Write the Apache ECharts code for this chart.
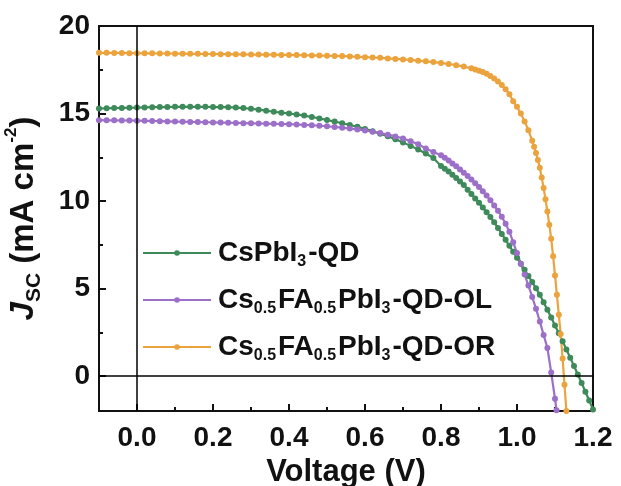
<!DOCTYPE html>
<html>
<head>
<meta charset="utf-8">
<script src="https://cdn.jsdelivr.net/npm/echarts@6/dist/echarts.min.js"></script>
<style>
  html, body { margin: 0; padding: 0; background: #ffffff; }
  #chart { width: 621px; height: 486px; }
</style>
</head>
<body>
<div id="chart"></div>
<script>
  // tick labels
  var xTicks = [0, 0.2, 0.4, 0.6, 0.8, 1.0, 1.2];
  var xMinorTicks = [0.1, 0.3, 0.5, 0.7, 0.9, 1.1];
  var yTicks = [0, 5, 10, 15, 20];
  var yMinorTicks = [2.5, 7.5, 12.5, 17.5];

  var seriesNames = ['CsPbI3-QD', 'Cs0.5FA0.5PbI3-QD-OL', 'Cs0.5FA0.5PbI3-QD-OR'];

  // CsPbI3-QD
  var voltQD = [-0.10,-0.08,-0.06,-0.04,-0.02,0.00,0.02,0.04,0.06,0.08,0.10,0.12,0.14,0.16,0.18,0.20,0.22,0.24,0.26,0.28,
    0.30,0.32,0.34,0.36,0.38,0.40,0.42,0.44,0.46,0.48,0.50,0.52,0.54,0.56,0.58,0.60,0.62,0.64,0.66,0.68,0.70,0.72,0.74,0.76,0.78,
    0.80,0.81,0.82,0.83,0.84,0.85,0.86,0.87,0.88,0.89,0.90,0.91,0.92,0.93,0.94,0.95,0.96,0.97,0.98,0.99,
    1.00,1.01,1.02,1.03,1.04,1.05,1.06,1.07,1.08,1.09,1.10,1.11,1.12,1.13,1.14,1.15,1.16,1.17,1.18,1.19,1.20];
  var jscQD = [15.28,15.30,15.31,15.32,15.33,15.34,15.35,15.36,15.37,15.37,15.38,15.38,15.38,15.38,15.38,15.37,15.37,15.36,15.34,15.31,
    15.27,15.22,15.16,15.10,15.05,15.00,14.95,14.88,14.80,14.72,14.63,14.54,14.44,14.34,14.24,14.12,13.99,13.85,13.70,13.53,13.35,13.15,12.94,12.71,12.46,
    12.00,11.85,11.68,11.50,11.32,11.12,10.92,10.65,10.40,10.15,9.90,9.63,9.36,9.08,8.78,8.46,8.12,7.78,7.44,7.10,
    6.76,6.42,6.07,5.72,5.37,5.01,4.65,4.22,3.78,3.34,2.89,2.44,1.98,1.52,1.05,0.57,0.09,-0.40,-0.90,-1.40,-1.91];

  // Cs0.5FA0.5PbI3-QD-OL
  var voltOL = [-0.10,-0.08,-0.06,-0.04,-0.02,0.00,0.02,0.04,0.06,0.08,0.10,0.12,0.14,0.16,0.18,0.20,0.22,0.24,0.26,0.28,
    0.30,0.32,0.34,0.36,0.38,0.40,0.42,0.44,0.46,0.48,0.50,0.52,0.54,0.56,0.58,0.60,0.62,0.64,0.66,0.68,0.70,0.72,0.74,0.76,0.78,
    0.80,0.81,0.82,0.83,0.84,0.85,0.86,0.87,0.88,0.89,0.90,0.91,0.92,0.93,0.94,0.95,0.96,0.97,0.98,0.99,
    1.00,1.01,1.02,1.03,1.04,1.05,1.06,1.07,1.08,1.09,1.10,1.104];
  var jscOL = [14.62,14.61,14.61,14.60,14.60,14.59,14.58,14.57,14.56,14.55,14.54,14.53,14.52,14.51,14.50,14.49,14.48,14.47,14.46,14.45,
    14.44,14.43,14.42,14.41,14.40,14.39,14.37,14.35,14.33,14.30,14.27,14.23,14.19,14.14,14.09,14.03,13.96,13.88,13.79,13.69,13.57,13.42,13.25,13.00,12.80,
    12.62,12.47,12.31,12.14,11.98,11.80,11.62,11.43,11.23,11.02,10.80,10.56,10.31,10.04,9.75,9.44,9.10,8.70,8.25,7.64,
    7.03,6.42,5.80,5.17,4.52,3.85,3.12,2.35,1.60,0.20,-1.30,-1.95];

  // Cs0.5FA0.5PbI3-QD-OR
  var voltOR = [-0.10,-0.08,-0.06,-0.04,-0.02,0.00,0.02,0.04,0.06,0.08,0.10,0.12,0.14,0.16,0.18,0.20,0.22,0.24,0.26,0.28,
    0.30,0.32,0.34,0.36,0.38,0.40,0.42,0.44,0.46,0.48,0.50,0.52,0.54,0.56,0.58,0.60,0.62,0.64,0.66,0.68,0.70,0.72,0.74,0.76,0.78,
    0.80,0.82,0.84,0.86,0.88,0.89,0.90,0.91,0.92,0.93,0.94,0.95,0.96,0.97,0.98,0.99,1.00,1.01,1.02,1.03,1.04,
    1.045,1.05,1.055,1.06,1.065,1.07,1.075,1.08,1.085,1.09,1.095,1.10,1.105,1.11,1.115,1.12,1.125,1.13];
  var jscOR = [18.47,18.47,18.46,18.46,18.45,18.45,18.44,18.44,18.43,18.43,18.42,18.42,18.41,18.41,18.40,18.40,18.39,18.39,18.38,18.38,
    18.37,18.37,18.36,18.36,18.35,18.35,18.34,18.33,18.32,18.31,18.30,18.29,18.28,18.26,18.24,18.22,18.20,18.18,18.15,18.12,18.09,18.06,18.02,17.98,17.94,
    17.89,17.83,17.76,17.68,17.58,17.52,17.45,17.37,17.27,17.15,17.00,16.83,16.63,16.38,16.10,15.70,15.38,15.00,14.55,14.05,13.45,
    13.10,12.75,12.35,11.90,11.35,10.75,10.10,9.40,8.65,7.85,6.85,5.75,4.65,3.50,2.40,1.00,-0.50,-2.00];

  var colors = ['#3e8a5b', '#9c6fc8', '#eba33d'];
  var fontFamily = '"Liberation Sans", Arial, sans-serif';

  function zip(xs, ys) {
    var out = [];
    for (var i = 0; i < xs.length; i++) out.push([xs[i], ys[i]]);
    return out;
  }

  var legendText = {
    'CsPbI3-QD': '{n|CsPbI}{s|3}{n|-QD}',
    'Cs0.5FA0.5PbI3-QD-OL': '{n|Cs}{s|0.5}{n|FA}{s|0.5}{n|PbI}{s|3}{n|-QD-OL}',
    'Cs0.5FA0.5PbI3-QD-OR': '{n|Cs}{s|0.5}{n|FA}{s|0.5}{n|PbI}{s|3}{n|-QD-OR}'
  };

  function lineSeries(name, data, color, withZeroLines) {
    var s = {
      name: name,
      type: 'line',
      data: data,
      xAxisIndex: 0,
      yAxisIndex: 0,
      showSymbol: true,
      showAllSymbol: true,
      symbol: 'circle',
      symbolSize: 6,
      clip: true,
      itemStyle: { color: color },
      lineStyle: { color: color, width: 2.2 },
      emphasis: { disabled: true },
      animation: false
    };
    if (withZeroLines) {
      s.markLine = {
        silent: true,
        symbol: 'none',
        label: { show: false },
        lineStyle: { color: '#000', width: 1.5, type: 'solid' },
        data: [{ xAxis: 0 }, { yAxis: 0 }]
      };
    }
    return s;
  }

  var chart = echarts.init(document.getElementById('chart'));
  chart.setOption({
    animation: false,
    backgroundColor: '#ffffff',
    grid: {
      left: 99, right: 28, top: 26, bottom: 75,
      show: true, borderColor: '#111', borderWidth: 2,
      containLabel: false,
      outerBoundsMode: 'none'
    },
    legend: {
      orient: 'vertical',
      left: 137,
      top: 234,
      itemGap: 16,
      itemWidth: 68,
      itemHeight: 7,
      data: seriesNames,
      formatter: function (name) { return legendText[name]; },
      textStyle: {
        color: '#111',
        fontFamily: fontFamily,
        rich: {
          n: { fontSize: 28, fontWeight: 'bold', color: '#111', fontFamily: fontFamily, lineHeight: 34, verticalAlign: 'middle', padding: [0, 0, 0, 2] },
          s: { fontSize: 16, fontWeight: 'bold', color: '#111', fontFamily: fontFamily, lineHeight: 16, verticalAlign: 'bottom' }
        }
      }
    },
    xAxis: [{
      type: 'value',
      min: -0.1, max: 1.2,
      position: 'bottom',
      name: 'Voltage (V)',
      nameLocation: 'middle',
      nameGap: 46,
      nameTextStyle: { fontSize: 31, fontWeight: 'bold', color: '#111', fontFamily: fontFamily },
      axisLine: { show: true, onZero: false, lineStyle: { color: '#111', width: 2 } },
      axisTick: { show: true, inside: true, length: 7, customValues: xTicks, lineStyle: { color: '#111', width: 2 } },
      axisLabel: {
        show: true, margin: 13, customValues: xTicks,
        fontSize: 28, fontWeight: 'bold', color: '#111', fontFamily: fontFamily,
        formatter: function (v) { return v.toFixed(1); }
      },
      splitLine: { show: false }
    }, {
      type: 'value',
      min: -0.1, max: 1.2,
      position: 'bottom',
      axisLine: { show: false, onZero: false },
      axisTick: { show: true, inside: true, length: 4, customValues: xMinorTicks, lineStyle: { color: '#111', width: 2 } },
      axisLabel: { show: false },
      splitLine: { show: false }
    }],
    yAxis: [{
      type: 'value',
      min: -2, max: 20,
      position: 'left',
      name: '{j|J}{sub|SC}{n| (mA cm}{sup|-2}{n|)}',
      nameLocation: 'middle',
      nameRotate: 90,
      nameGap: 54,
      nameTextStyle: {
        color: '#111',
        rich: {
          j: { fontSize: 33, fontWeight: 'bold', fontStyle: 'italic', color: '#111', fontFamily: fontFamily, lineHeight: 42, verticalAlign: 'middle' },
          n: { fontSize: 33, fontWeight: 'bold', color: '#111', fontFamily: fontFamily, lineHeight: 42, verticalAlign: 'middle' },
          sub: { fontSize: 21, fontWeight: 'bold', color: '#111', fontFamily: fontFamily, lineHeight: 21, verticalAlign: 'bottom' },
          sup: { fontSize: 17, fontWeight: 'bold', color: '#111', fontFamily: fontFamily, lineHeight: 17, verticalAlign: 'top' }
        }
      },
      axisLine: { show: true, onZero: false, lineStyle: { color: '#111', width: 2 } },
      axisTick: { show: true, inside: true, length: 7, customValues: yTicks, lineStyle: { color: '#111', width: 2 } },
      axisLabel: {
        show: true, margin: 9, customValues: yTicks,
        fontSize: 28, fontWeight: 'bold', color: '#111', fontFamily: fontFamily
      },
      splitLine: { show: false }
    }, {
      type: 'value',
      min: -2, max: 20,
      position: 'left',
      axisLine: { show: false, onZero: false },
      axisTick: { show: true, inside: true, length: 4, customValues: yMinorTicks, lineStyle: { color: '#111', width: 2 } },
      axisLabel: { show: false },
      splitLine: { show: false }
    }],
    series: [
      lineSeries(seriesNames[0], zip(voltQD, jscQD), colors[0], true),
      lineSeries(seriesNames[1], zip(voltOL, jscOL), colors[1], false),
      lineSeries(seriesNames[2], zip(voltOR, jscOR), colors[2], false)
    ]
  });
</script>
</body>
</html>
